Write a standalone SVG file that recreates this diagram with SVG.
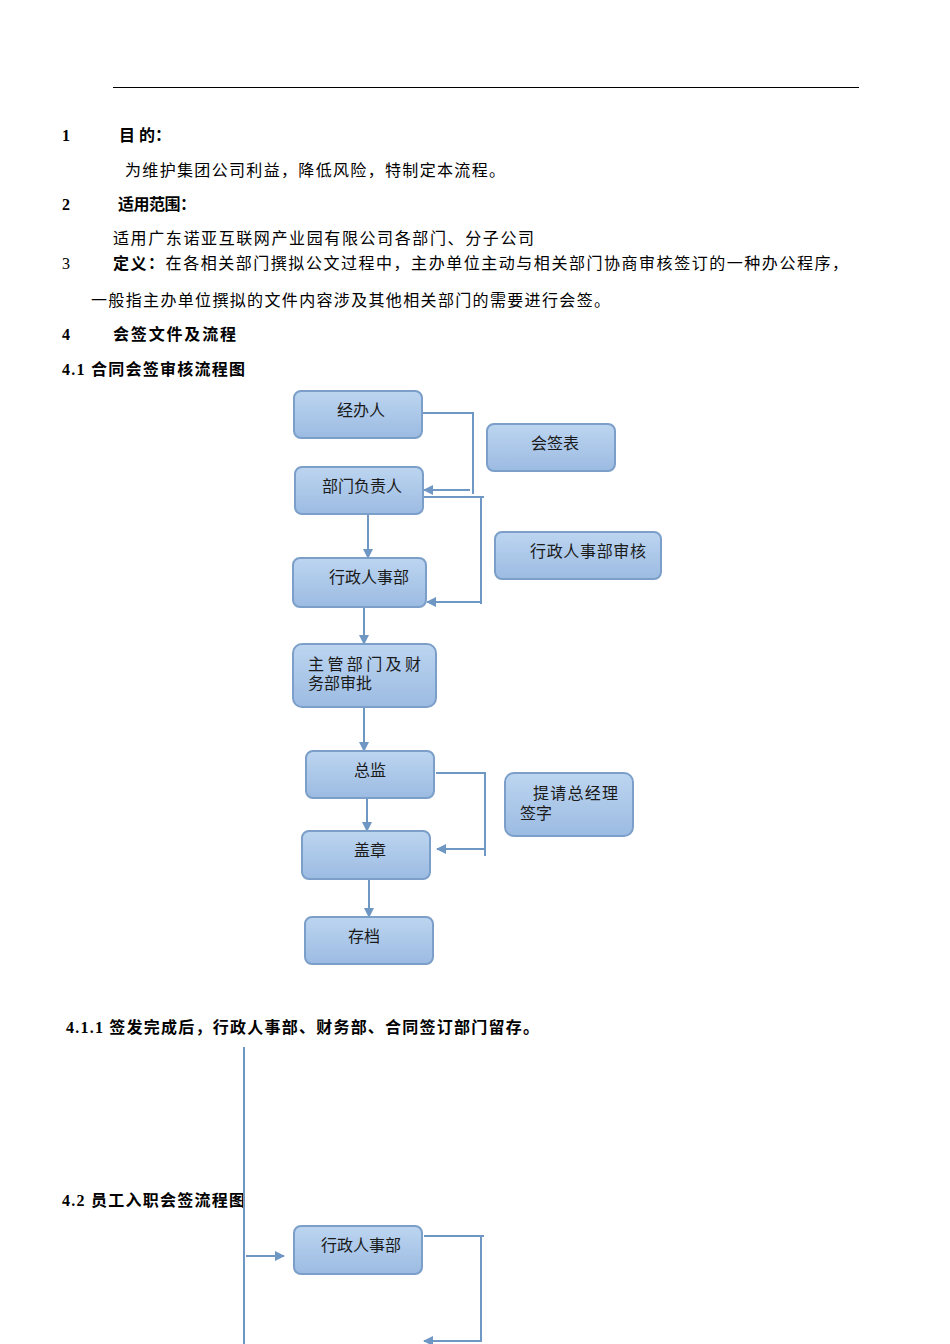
<svg xmlns="http://www.w3.org/2000/svg" width="950" height="1344" viewBox="0 0 950 1344">
<style>
.t{font-family:"Liberation Serif","Noto Sans CJK SC",serif;font-size:16px;fill:#000}
.b{font-weight:bold}
.n{fill:url(#g);stroke:#7b9fc9;stroke-width:2}
.nt{font-family:"Liberation Serif","Noto Sans CJK SC",serif;font-size:16px;fill:#1a1a1a}
.c{fill:none;stroke:#6f97c3;stroke-width:2}
.a{fill:none;stroke:#6f97c3;stroke-width:2;marker-end:url(#ah)}
</style>
<defs>
<linearGradient id="g" x1="0" y1="0" x2="0" y2="1">
<stop offset="0" stop-color="#bcd5f0"/>
<stop offset="1" stop-color="#9cbbe2"/>
</linearGradient>
<marker id="ah" viewBox="0 0 10 10" refX="9" refY="5" markerWidth="5" markerHeight="5" orient="auto" markerUnits="strokeWidth">
<path d="M0,0 L10,5 L0,10 z" fill="#6f97c3"/>
</marker>
</defs>
<rect width="950" height="1344" fill="#fff"/>
<line x1="113" y1="87.5" x2="859" y2="87.5" stroke="#000" stroke-width="1"/>
<g id="text">
<text class="t b" x="62" y="141">1</text>
<text class="t b" x="119" y="141">目 的：</text>
<text class="t" x="125" y="176" textLength="380">为维护集团公司利益，降低风险，特制定本流程。</text>
<text class="t b" x="62" y="210">2</text>
<text class="t b" x="118" y="210" textLength="78">适用范围：</text>
<text class="t" x="113" y="244" textLength="421">适用广东诺亚互联网产业园有限公司各部门、分子公司</text>
<text class="t" x="62" y="269">3</text>
<text class="t" x="113" y="269" textLength="735"><tspan class="b">定义：</tspan>在各相关部门撰拟公文过程中，主办单位主动与相关部门协商审核签订的一种办公程序，</text>
<text class="t" x="91" y="306" textLength="519">一般指主办单位撰拟的文件内容涉及其他相关部门的需要进行会签。</text>
<text class="t b" x="62" y="340">4</text>
<text class="t b" x="113" y="340" textLength="123">会签文件及流程</text>
<text class="t b" x="62" y="375" textLength="183">4.1 合同会签审核流程图</text>
<text class="t b" x="66" y="1033" textLength="473">4.1.1 签发完成后，行政人事部、财务部、合同签订部门留存。</text>
<text class="t b" x="62" y="1206" textLength="183">4.2 员工入职会签流程图</text>
</g>
<g id="connectors">
<path class="c" d="M422,413 H473 V494"/>
<path class="a" d="M470,490 H424"/>
<path class="c" d="M424,497 H484 M481,497 V604"/>
<path class="a" d="M481,602 H427"/>
<path class="a" d="M368,515 V558"/>
<path class="a" d="M364,604 V644"/>
<path class="a" d="M364,708 V751"/>
<path class="c" d="M436,773 H485 V856"/>
<path class="a" d="M485,849 H437"/>
<path class="a" d="M367,792 V831"/>
<path class="a" d="M369,877 V917"/>
<path class="c" d="M244,1047 V1344"/>
<path class="a" d="M246,1256 H284"/>
<path class="c" d="M424,1236 H484 M481,1236 V1342"/>
<path class="a" d="M481,1341 H424"/>
</g>
<g id="n1"><rect class="n" x="294" y="391" width="128" height="47" rx="7"/><text class="nt" x="361" y="416" text-anchor="middle">经办人</text></g>
<g id="n2"><rect class="n" x="487" y="424" width="128" height="47" rx="7"/><text class="nt" x="555" y="449" text-anchor="middle">会签表</text></g>
<g id="n3"><rect class="n" x="295" y="467" width="128" height="47" rx="7"/><text class="nt" x="362" y="492" text-anchor="middle">部门负责人</text></g>
<g id="n4"><rect class="n" x="495" y="532" width="166" height="47" rx="7"/><text class="nt" x="530" y="557" textLength="116">行政人事部审核</text></g>
<g id="n5"><rect class="n" x="293" y="558" width="133" height="49" rx="7"/><text class="nt" x="369" y="583" text-anchor="middle">行政人事部</text></g>
<g id="n6"><rect class="n" x="293" y="644" width="143" height="63" rx="9"/><text class="nt" x="308" y="670" textLength="113">主管部门及财</text><text class="nt" x="308" y="689">务部审批</text></g>
<g id="n7"><rect class="n" x="306" y="751" width="128" height="47" rx="7"/><text class="nt" x="370" y="776" text-anchor="middle">总监</text></g>
<g id="n8"><rect class="n" x="505" y="773" width="128" height="63" rx="9"/><text class="nt" x="533" y="799" textLength="85">提请总经理</text><text class="nt" x="520" y="819">签字</text></g>
<g id="n9"><rect class="n" x="302" y="831" width="128" height="48" rx="7"/><text class="nt" x="370" y="856" text-anchor="middle">盖章</text></g>
<g id="n10"><rect class="n" x="305" y="917" width="128" height="47" rx="7"/><text class="nt" x="364" y="942" text-anchor="middle">存档</text></g>
<g id="n11"><rect class="n" x="294" y="1226" width="128" height="48" rx="7"/><text class="nt" x="361" y="1251" text-anchor="middle">行政人事部</text></g>
</svg>
